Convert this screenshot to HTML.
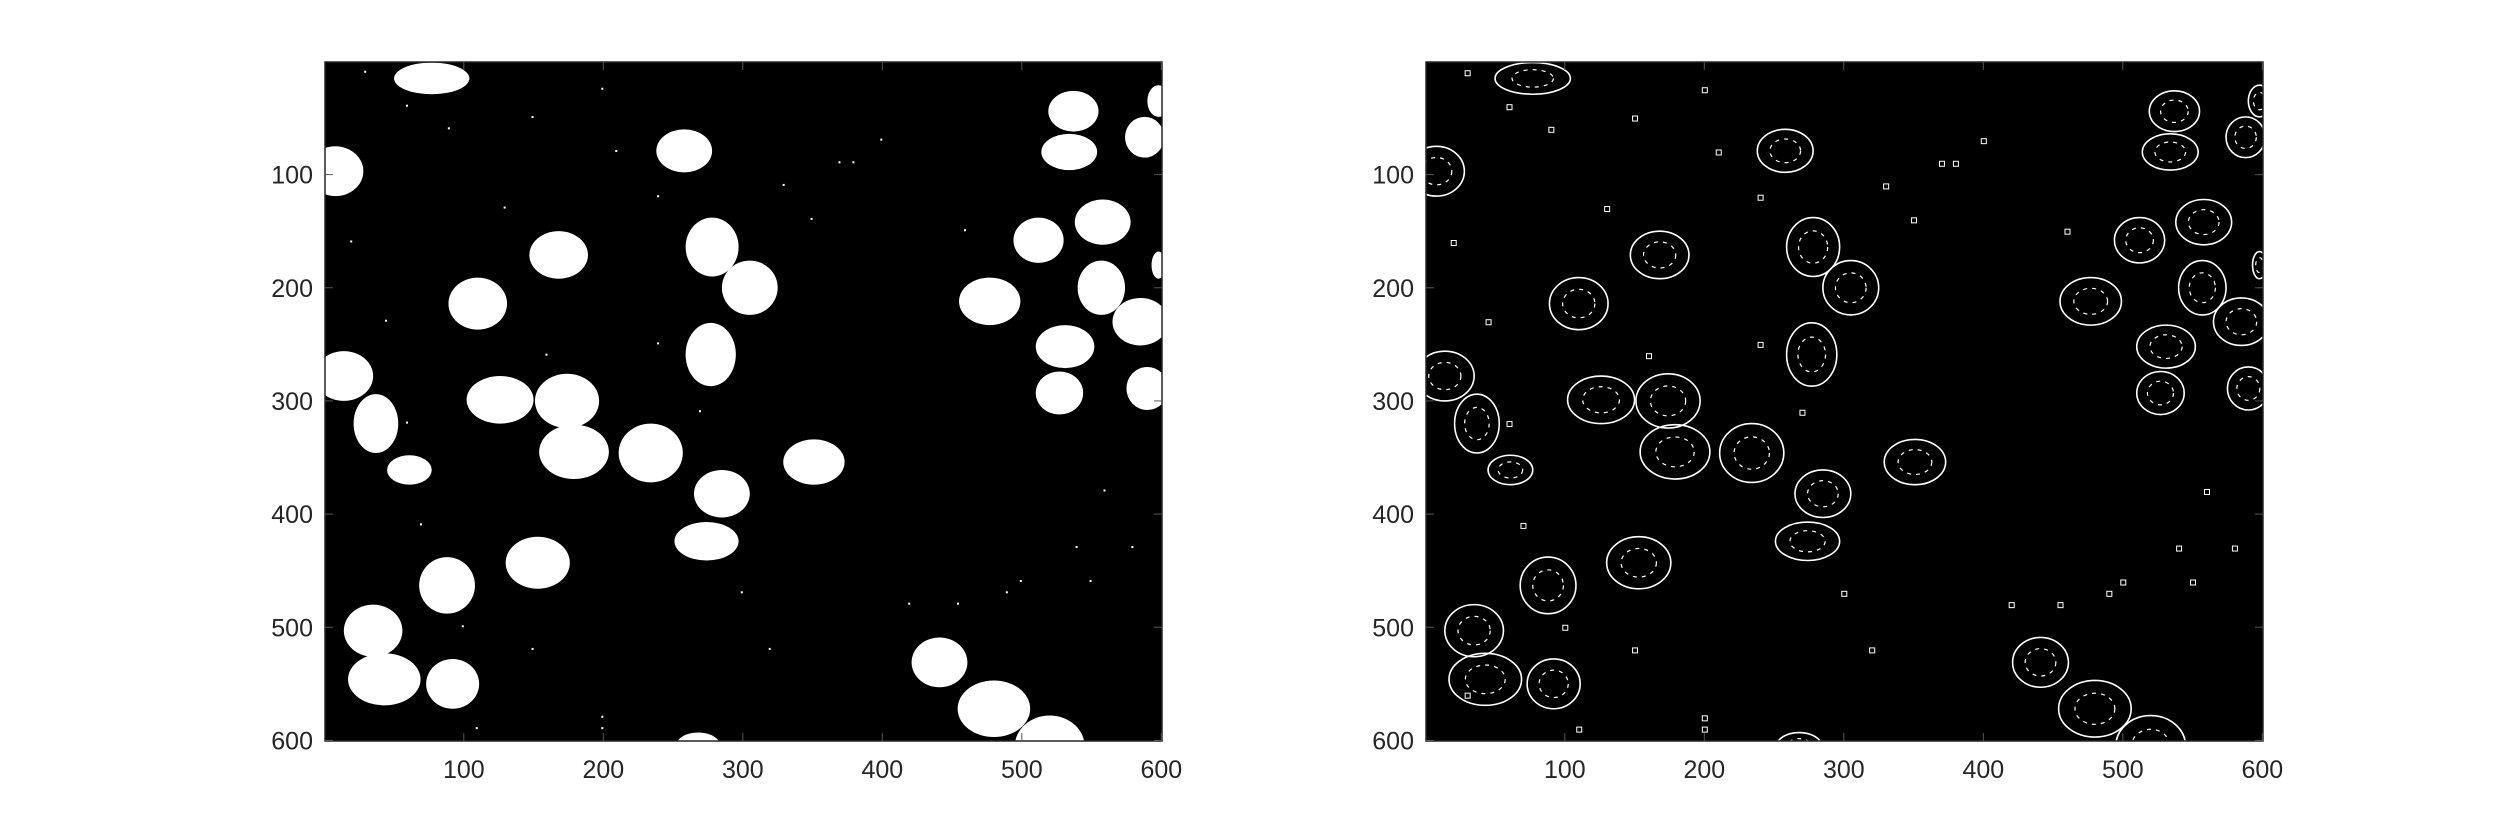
<!DOCTYPE html>
<html><head><meta charset="utf-8">
<style>
html,body{margin:0;padding:0;background:#fff;}
svg{display:block;}
text{font-family:"Liberation Sans",sans-serif;font-size:25px;fill:#262626;}
</style></head>
<body>
<svg id="fig" width="2500" height="833" viewBox="0 0 2500 833" xmlns="http://www.w3.org/2000/svg"></svg>
<script>
// blob (nucleus) data in image coordinates (pixels of a 600x600 image)
const blobX  = [77,8,258,537,534,588,598,168,278,305,110,477,512,558,557,585,598,531,527,590,277,14,37,61,126,174,179,234,351,285,274,153,88,35,43,92,441,480,520,268];
const blobY  = [15,97,79,44,80,67,35,171,164,200,214,212,158,142,200,230,180,252,293,289,259,278,320,361,299,300,345,346,354,382,424,443,463,503,546,550,531,572,605,605];
const blobRX = [27,20,20,18,20,14,8,21,19,20,21,22,18,20,17,20,5,21,17,15,18,21,16,16,24,23,25,23,22,20,23,23,20,21,26,19,20,26,25,16];
const blobRY = [14,22,19,18,16,18,14,21,26,24,23,21,20,20,24,21,12,19,19,19,28,22,26,13,21,24,24,26,20,21,17,23,25,23,23,22,22,25,27,12];
const ticks = [100,200,300,400,500,600];
const tickLabels = ["100","200","300","400","500","600"];
// small speckles for the edge map
const dotX = [30,60,90,150,200,210,240,330,380,400,45,20,130,160,240,270,350,370,460,500,560,620-40,150,200,100,60,70,300,320,420,455,490,540,550,30,110,200];
const dotY = [10,40,60,50,25,80,120,110,90,70,230,160,130,260,250,310,140,90,150,460,380,430,520,580,500,320,410,470,520,480,480,470,430,460,560,590,590,560];

const NS="http://www.w3.org/2000/svg";
const svg=document.getElementById('fig');
function mk(tag,attrs,parent){const e=document.createElementNS(NS,tag);for(const k in attrs)e.setAttribute(k,attrs[k]);(parent||svg).appendChild(e);return e;}

const axesDefs=[{x0:325,name:'binary-image'},{x0:1426,name:'edge-image'}];
const W=837,Y0=62,H=679;
axesDefs.forEach((ax,ai)=>{
  const sx=v=>ax.x0+(v-0.5)/600*W;
  const sy=v=>Y0+(v-0.5)/600*H;
  const kx=W/600,ky=H/600;
  const g=mk('g',{});
  
  
  const cid='clip'+ai;
  const cp=mk('clipPath',{id:cid},g);
  mk('rect',{x:ax.x0,y:Y0,width:W,height:H},cp);
  const bg=mk('rect',{x:ax.x0,y:Y0,width:W,height:H,fill:'#000'},g);
  
  
  const cg=mk('g',{'clip-path':'url(#'+cid+')'},g);
  for(let i=0;i<blobX.length;i++){
    let e;
    if(ai===0){
      e=mk('ellipse',{cx:sx(blobX[i]),cy:sy(blobY[i]),rx:blobRX[i]*kx,ry:blobRY[i]*ky,fill:'#fff'},cg);
    }else{
      e=mk('ellipse',{cx:sx(blobX[i]),cy:sy(blobY[i]),rx:blobRX[i]*kx,ry:blobRY[i]*ky,fill:'none',stroke:'#fff','stroke-width':1.6},cg);
      mk('ellipse',{cx:sx(blobX[i]),cy:sy(blobY[i]),rx:blobRX[i]*kx*0.55,ry:blobRY[i]*ky*0.55,fill:'none',stroke:'#fff','stroke-width':1.2,'stroke-dasharray':'4 5'},cg);
    }
    
    
  }
  for(let i=0;i<dotX.length;i++){
    const d=mk('rect',{x:sx(dotX[i])-2,y:sy(dotY[i])-2,width:ai?5:2,height:ai?5:2,fill:ai?'none':'#fff',stroke:ai?'#fff':'none','stroke-width':1},cg);
    
    
  }
  const box=mk('rect',{x:ax.x0,y:Y0,width:W,height:H,fill:'none',stroke:'#262626','stroke-width':1.5},g);
  
  
  ticks.forEach((t,i)=>{
    const x=sx(t),y=sy(t);
    mk('line',{x1:x,y1:Y0+H,x2:x,y2:Y0+H-8,stroke:'#555','stroke-width':1},g);
    mk('line',{x1:x,y1:Y0,x2:x,y2:Y0+8,stroke:'#555','stroke-width':1},g);
    mk('line',{x1:ax.x0,y1:y,x2:ax.x0+8,y2:y,stroke:'#555','stroke-width':1},g);
    mk('line',{x1:ax.x0+W,y1:y,x2:ax.x0+W-8,y2:y,stroke:'#555','stroke-width':1},g);
    const xl=mk('text',{x:x,y:778,'text-anchor':'middle'},g);
    xl.textContent=tickLabels[i];
    
    
    const yl=mk('text',{x:ax.x0-12,y:y+9,'text-anchor':'end'},g);
    yl.textContent=tickLabels[i];
    
    
  });
});
</script>
</body></html>
